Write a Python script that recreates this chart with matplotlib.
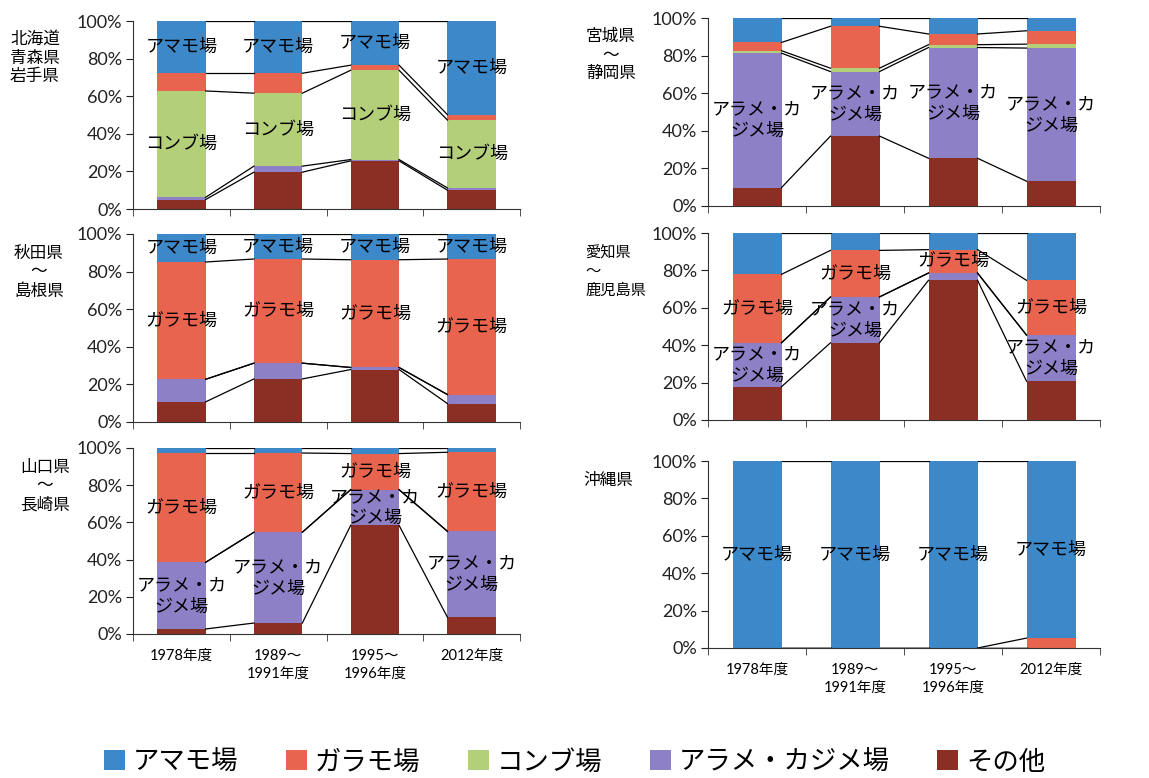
import numpy as np
import matplotlib
matplotlib.use('Agg')
import matplotlib.pyplot as plt
from matplotlib.patches import Patch

plt.rcParams['font.family'] = ['Lato', 'Noto Sans CJK JP']

years = ['1978年度', '1989〜\n1991年度', '1995〜\n1996年度', '2012年度']
series = ['アマモ場', 'ガラモ場', 'コンブ場', 'アラメ・カジメ場', 'その他']
label_text = ['アマモ場', 'ガラモ場', 'コンブ場', 'アラメ・カ\nジメ場', 'その他']
colors = ['#3D88C8', '#E8644F', '#B3CF7A', '#8E80C6', '#8B2F25']

# shares in %, rows in the order of `series`, columns in the order of `years`
hokkaido = [[27.8, 27.8, 23.5, 49.8],
            [9.4, 10.6, 2.7, 2.9],
            [56.6, 38.8, 47.5, 36.1],
            [1.2, 3.2, 0.7, 1.2],
            [5.0, 19.6, 25.6, 10.0]]
miyagi = [[13.0, 4.4, 8.5, 6.8],
          [4.4, 22.3, 5.7, 7.1],
          [1.3, 1.8, 1.5, 2.1],
          [71.5, 34.3, 58.9, 70.8],
          [9.8, 37.2, 25.4, 13.2]]
akita = [[14.9, 13.3, 13.7, 13.3],
         [62.4, 55.4, 57.3, 72.1],
         [0, 0, 0, 0],
         [12.0, 8.4, 1.1, 4.8],
         [10.7, 22.9, 27.9, 9.8]]
aichi = [[22.1, 9.3, 8.9, 25.3],
         [36.6, 24.9, 12.5, 29.3],
         [0, 0, 0, 0],
         [23.5, 24.5, 3.9, 24.6],
         [17.8, 41.3, 74.7, 20.8]]
yamaguchi = [[2.7, 2.7, 3.0, 2.3],
             [58.8, 42.6, 19.4, 42.5],
             [0, 0, 0, 0],
             [35.8, 48.8, 19.2, 46.2],
             [2.7, 5.9, 58.4, 9.0]]
okinawa = [[100, 100, 100, 94.7],
           [0, 0, 0, 5.3],
           [0, 0, 0, 0],
           [0, 0, 0, 0],
           [0, 0, 0, 0]]

# which (series, year) segments carry a data label
hokkaido_lab = [(0, 0), (0, 1), (0, 2), (0, 3), (2, 0), (2, 1), (2, 2), (2, 3)]
miyagi_lab = [(3, 0), (3, 1), (3, 2), (3, 3)]
akita_lab = [(0, 0), (0, 1), (0, 2), (0, 3), (1, 0), (1, 1), (1, 2), (1, 3)]
aichi_lab = [(1, 0), (1, 1), (1, 2), (1, 3), (3, 0), (3, 1), (3, 3)]
yamaguchi_lab = [(1, 0), (1, 1), (1, 2), (1, 3), (3, 0), (3, 1), (3, 2), (3, 3)]
okinawa_lab = [(0, 0), (0, 1), (0, 2), (0, 3)]

W, H = 1149, 778
fig = plt.figure(figsize=(W / 100, H / 100), dpi=100)


def draw(box, data, labeled, show_x, xpad):
    x0, x1, ytop, ybot = box
    ax = fig.add_axes([x0 / W, 1 - ybot / H, (x1 - x0) / W, (ybot - ytop) / H])
    data = np.array(data, dtype=float) / 100.0
    x = np.arange(4)
    w = 0.5
    bottom = np.zeros(4)
    tops = []
    for k in [4, 3, 2, 1, 0]:
        ax.bar(x, data[k], w, bottom=bottom, color=colors[k], linewidth=0, zorder=2)
        for (s, i) in labeled:
            if s == k:
                ax.text(x[i], bottom[i] + data[k][i] / 2, label_text[k], ha='center', va='center',
                        fontsize=13, family='Noto Sans CJK JP', linespacing=1.25, zorder=5)
        bottom = bottom + data[k]
        tops.append(bottom.copy())
    for t in tops:
        for i in range(3):
            ax.plot([x[i] + w / 2, x[i + 1] - w / 2], [t[i], t[i + 1]], color='black', lw=0.9, zorder=3)
    ax.set_xlim(-0.5, 3.5)
    ax.set_ylim(0, 1)
    for s in ['top', 'right']:
        ax.spines[s].set_visible(False)
    ax.spines['left'].set_color('#333333')
    ax.spines['bottom'].set_color('#333333')
    ax.set_yticks(np.arange(0, 1.01, 0.2))
    ax.set_yticklabels(['0%', '20%', '40%', '60%', '80%', '100%'], fontsize=13)
    ax.tick_params(axis='y', length=5, pad=3, colors='#222222')
    ax.set_xticks(x)
    if show_x:
        ax.set_xticklabels(years, fontsize=10.5)
        for t in ax.get_xticklabels():
            t.set_linespacing(1.3)
    else:
        ax.set_xticklabels([])
    ax.tick_params(axis='x', which='major', length=0, pad=xpad)
    ax.set_xticks([-0.5, 0.5, 1.5, 2.5, 3.5], minor=True)
    ax.tick_params(axis='x', which='minor', length=5, color='#333333')
    return ax


draw((133, 520, 21, 209), hokkaido, hokkaido_lab, False, 10)
draw((708, 1100, 18, 206), miyagi, miyagi_lab, False, 10)
draw((133, 520, 234, 422), akita, akita_lab, False, 10)
draw((708, 1100, 233, 420), aichi, aichi_lab, False, 10)
draw((133, 520, 448, 634), yamaguchi, yamaguchi_lab, True, 11)
draw((708, 1100, 461, 648), okinawa, okinawa_lab, True, 11)

region_names = [('北海道\n青森県\n岩手県', 10, 58, 'left', 12),
                ('宮城県\n〜\n静岡県', 611, 55, 'center', 12),
                ('秋田県\n〜\n島根県', 39, 272, 'center', 12),
                ('愛知県\n〜\n鹿児島県', 585, 271, 'left', 11),
                ('山口県\n〜\n長崎県', 45, 486, 'center', 12),
                ('沖縄県', 583, 480, 'left', 12)]
for txt, px, py, ha, fs in region_names:
    fig.text(px / W, 1 - py / H, txt, ha=ha, va='center', fontsize=fs,
             family='Noto Sans CJK JP', linespacing=1.15, multialignment='center' if ha == 'center' else 'left')

handles = [Patch(facecolor=c, edgecolor='none') for c in colors]
fig.legend(handles, series, loc='center', bbox_to_anchor=(0.5, 1 - 762 / H), ncol=5, frameon=False,
           prop={'family': 'Noto Sans CJK JP', 'size': 19}, handlelength=0.8, handleheight=0.8,
           handletextpad=0.3, columnspacing=1.8)

fig.savefig('out.png', dpi=100)
